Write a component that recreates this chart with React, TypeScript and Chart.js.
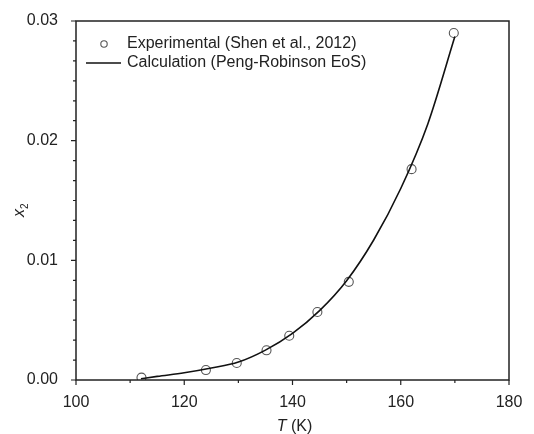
import React, { useEffect, useRef } from "react";
import { Chart, registerables } from "chart.js";

Chart.register(...registerables);

const expT = [112.1, 124.0, 129.7, 135.2, 139.4, 144.6, 150.4, 162.0, 169.8];
const expX = [0.0002, 0.00083, 0.00142, 0.00248, 0.0037, 0.00568, 0.0082, 0.01762, 0.029];

const calcT = [112, 115, 120, 125, 130, 135, 140, 145, 150, 155, 160, 165, 170];
const calcX = [0.0001, 0.0003, 0.0006, 0.001, 0.0015, 0.0025, 0.0039, 0.0058, 0.0083, 0.0117, 0.016, 0.0214, 0.0287];

const xMajorTicks = [100, 120, 140, 160, 180];
const xMinorTicks = [110, 130, 150, 170];
const yMajorTicks = [0, 0.01, 0.02, 0.03];
const yMinorPerMajor = 6;

const expLabel = "Experimental (Shen et al., 2012)";
const calcLabel = "Calculation (Peng-Robinson EoS)";

const FONT = "'Liberation Sans', Arial, sans-serif";
const TEXT = "#222";
const AXIS = "#222";

const decorPlugin = {
  id: "decor",
  afterDraw(chart: any) {
    const ctx = chart.ctx;
    const { left, right, top, bottom } = chart.chartArea;
    const xs = chart.scales.x;
    const ys = chart.scales.y;
    ctx.save();
    // box
    ctx.strokeStyle = AXIS;
    ctx.lineWidth = 1.5;
    ctx.strokeRect(left, top, right - left, bottom - top);
    // ticks
    ctx.lineWidth = 1.2;
    ctx.beginPath();
    xMajorTicks.forEach((v) => {
      const p = xs.getPixelForValue(v);
      ctx.moveTo(p, bottom);
      ctx.lineTo(p, bottom + 5);
    });
    xMinorTicks.forEach((v) => {
      const p = xs.getPixelForValue(v);
      ctx.moveTo(p, bottom);
      ctx.lineTo(p, bottom + 3);
    });
    yMajorTicks.forEach((v, i) => {
      const p = ys.getPixelForValue(v);
      ctx.moveTo(left, p);
      ctx.lineTo(left - 5, p);
      if (i < yMajorTicks.length - 1) {
        const step = (yMajorTicks[i + 1] - v) / yMinorPerMajor;
        for (let k = 1; k < yMinorPerMajor; k++) {
          const q = ys.getPixelForValue(v + k * step);
          ctx.moveTo(left, q);
          ctx.lineTo(left - 3, q);
        }
      }
    });
    ctx.stroke();

    // legend
    ctx.fillStyle = TEXT;
    ctx.font = `16px ${FONT}`;
    ctx.textBaseline = "middle";
    ctx.textAlign = "left";
    ctx.beginPath();
    ctx.strokeStyle = "#555";
    ctx.lineWidth = 1.1;
    ctx.arc(104, 44, 3.2, 0, Math.PI * 2);
    ctx.stroke();
    ctx.fillText(expLabel, 127, 44);
    ctx.beginPath();
    ctx.strokeStyle = "#111";
    ctx.lineWidth = 1.6;
    ctx.moveTo(86, 63);
    ctx.lineTo(121, 63);
    ctx.stroke();
    ctx.fillText(calcLabel, 127, 63);

    // x title: T (K)
    const cx = (left + right) / 2;
    ctx.font = `italic 16px ${FONT}`;
    const wT = ctx.measureText("T").width;
    ctx.font = `16px ${FONT}`;
    const wK = ctx.measureText(" (K)").width;
    const start = cx - (wT + wK) / 2 + 2;
    ctx.font = `italic 16px ${FONT}`;
    ctx.fillText("T", start, 427);
    ctx.font = `16px ${FONT}`;
    ctx.fillText(" (K)", start + wT, 427);

    // y title: x2 rotated
    ctx.translate(20, 210);
    ctx.rotate(-Math.PI / 2);
    ctx.font = `italic 16px ${FONT}`;
    const wx = ctx.measureText("x").width;
    ctx.fillText("x", -wx / 2 - 3, 0);
    ctx.font = `10px ${FONT}`;
    ctx.fillText("2", wx / 2 - 3, 5);
    ctx.restore();
  },
};

export default function App() {
  const ref = useRef<HTMLCanvasElement | null>(null);
  useEffect(() => {
    if (!ref.current) return;
    const chart = new Chart(ref.current, {
      type: "scatter",
      data: {
        datasets: [
          {
            type: "line",
            label: calcLabel,
            data: calcT.map((t, i) => ({ x: t, y: calcX[i] })),
            borderColor: "#111",
            borderWidth: 1.6,
            pointRadius: 0,
            fill: false,
            cubicInterpolationMode: "monotone",
          } as any,
          {
            type: "scatter",
            label: expLabel,
            data: expT.map((t, i) => ({ x: t, y: expX[i] })),
            borderColor: "#555",
            backgroundColor: "rgba(0,0,0,0)",
            borderWidth: 1.1,
            pointRadius: 4.5,
            pointStyle: "circle",
          } as any,
        ],
      },
      options: {
        responsive: false,
        animation: false,
        layout: { padding: { top: 21, right: 25, left: 0, bottom: 0 } },
        plugins: { legend: { display: false }, tooltip: { enabled: false } },
        scales: {
          x: {
            type: "linear",
            min: 100,
            max: 180,
            grid: { display: false },
            border: { display: false },
            afterBuildTicks: (s: any) => {
              s.ticks = xMajorTicks.map((v) => ({ value: v }));
            },
            afterFit: (s: any) => {
              s.height = 54;
            },
            ticks: {
              font: { size: 16, family: FONT },
              color: TEXT,
              padding: 5,
              maxRotation: 0,
              autoSkip: false,
              callback: (v: any) => String(v),
            },
          },
          y: {
            type: "linear",
            min: 0,
            max: 0.03,
            grid: { display: false },
            border: { display: false },
            afterBuildTicks: (s: any) => {
              s.ticks = yMajorTicks.map((v) => ({ value: v }));
            },
            afterFit: (s: any) => {
              s.width = 76;
            },
            ticks: {
              font: { size: 16, family: FONT },
              color: TEXT,
              padding: 10,
              autoSkip: false,
              callback: (v: any) => Number(v).toFixed(2),
            },
          },
        },
      },
      plugins: [decorPlugin],
    });
    return () => chart.destroy();
  }, []);
  return (
    <div style={{ position: "absolute", left: 0, top: 0, width: 534, height: 434, background: "#fff" }}>
      <canvas ref={ref} width={534} height={434} />
    </div>
  );
}
